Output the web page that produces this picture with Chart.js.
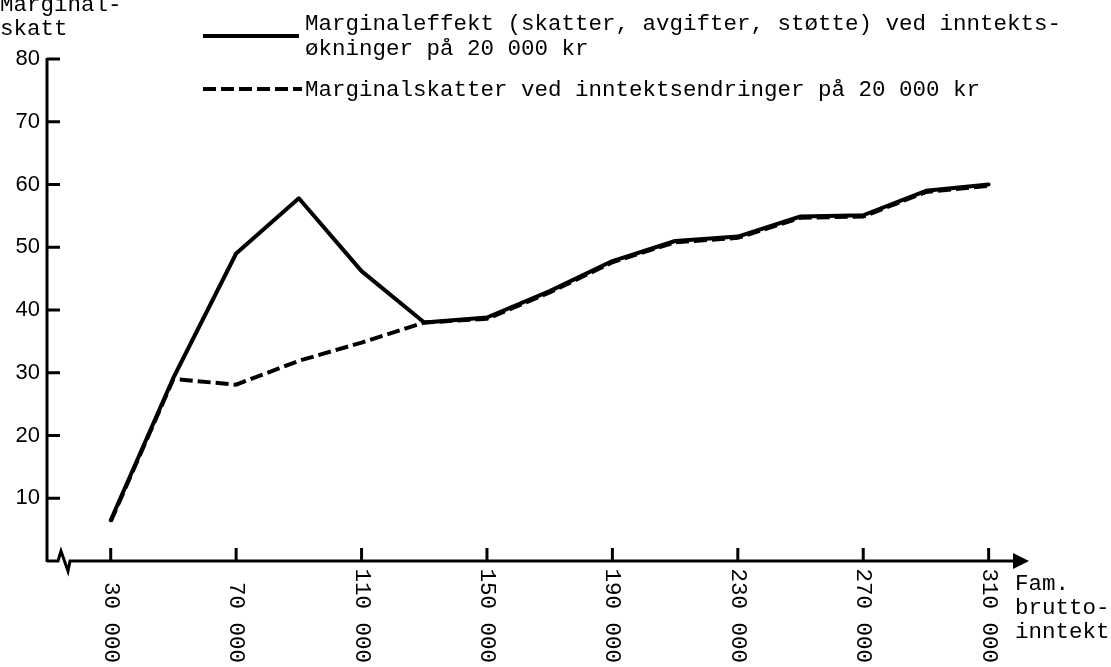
<!DOCTYPE html>
<html>
<head>
<meta charset="utf-8">
<script src="https://cdn.jsdelivr.net/npm/chart.js@4.4.0/dist/chart.umd.min.js"></script>
<style>
  html, body { margin: 0; padding: 0; background: #fff; }
  canvas { display: block; }
</style>
</head>
<body>
<canvas id="chart" width="1111" height="667"></canvas>
<script>
// family gross income (kr) and marginal rates (%)
const incomes = [30000, 50000, 70000, 90000, 110000, 130000, 150000, 170000, 190000, 210000, 230000, 250000, 270000, 290000, 310000];
const marginalEffect = [6.5, 29.2, 49, 57.8, 46.2, 38, 38.8, 43, 47.8, 51, 51.7, 54.9, 55.1, 59, 60];
const marginalTax = [6.3, 29, 28.1, 31.9, 34.8, 38, 38.6, 42.8, 47.6, 50.8, 51.5, 54.7, 54.9, 58.8, 59.8];

const yTicks = [10, 20, 30, 40, 50, 60, 70, 80];
const xTickValues = [30000, 70000, 110000, 150000, 190000, 230000, 270000, 310000];
const xTickLabels = ['30 000', '70 000', '110 000', '150 000', '190 000', '230 000', '270 000', '310 000'];

const yTitle = ['Marginal-', 'skatt'];
const xTitle = ['Fam.', 'brutto-', 'inntekt'];
const legendEffect = ['Marginaleffekt (skatter, avgifter, støtte) ved inntekts-', 'økninger på 20 000 kr'];
const legendTax = ['Marginalskatter ved inntektsendringer på 20 000 kr'];

const mono = '22.5px "Liberation Mono", "DejaVu Sans Mono", monospace';
const sans = '22px "Liberation Sans", Arial, sans-serif';

const toPoints = (values) => incomes.map((inc, i) => { return {x: inc, y: values[i]} });

const axesPlugin = {
    id: 'axesPlugin',
    beforeDraw: (chart) => {
        const ctx = chart.ctx;
        ctx.save();
        ctx.fillStyle = '#fff';
        ctx.fillRect(0, 0, chart.width, chart.height);
        ctx.restore();
    },
    afterDraw: (chart) => {
        const ctx = chart.ctx;
        const xs = chart.scales.x, ys = chart.scales.y;
        const x0 = xs.left - 1;
        const y0 = ys.getPixelForValue(0);
        const yTop = ys.getPixelForValue(80);
        ctx.save();
        ctx.strokeStyle = '#000';
        ctx.fillStyle = '#000';
        ctx.lineWidth = 3;
        ctx.lineCap = 'butt';

        // y axis + ticks
        ctx.beginPath();
        ctx.moveTo(x0, yTop - 1);
        ctx.lineTo(x0, y0 + 1);
        ctx.stroke();
        ctx.font = sans;
        ctx.textAlign = 'right';
        ctx.textBaseline = 'middle';
        yTicks.forEach((v) => {
            const py = ys.getPixelForValue(v);
            ctx.beginPath();
            ctx.moveTo(x0, py);
            ctx.lineTo(x0 + 13, py);
            ctx.stroke();
            ctx.fillText(String(v), x0 - 7, py);
        });

        // x axis with break mark and arrow
        const arrowBase = xs.right - 5;
        ctx.beginPath();
        ctx.moveTo(x0, y0);
        ctx.lineTo(x0 + 11, y0);
        ctx.lineTo(x0 + 14, y0 - 10);
        ctx.lineTo(x0 + 21, y0 + 10);
        ctx.lineTo(x0 + 23, y0);
        ctx.lineTo(arrowBase, y0);
        ctx.stroke();
        ctx.beginPath();
        ctx.moveTo(arrowBase - 2, y0 - 8);
        ctx.lineTo(arrowBase + 14, y0);
        ctx.lineTo(arrowBase - 2, y0 + 8);
        ctx.closePath();
        ctx.fill();

        // x ticks + rotated labels
        ctx.font = mono;
        xTickValues.forEach((v, i) => {
            const px = xs.getPixelForValue(v);
            ctx.beginPath();
            ctx.moveTo(px, y0);
            ctx.lineTo(px, y0 - 13);
            ctx.stroke();
            ctx.save();
            ctx.translate(px, 663);
            ctx.rotate(Math.PI / 2);
            ctx.textAlign = 'right';
            ctx.textBaseline = 'middle';
            ctx.fillText(xTickLabels[i], 0, 0);
            ctx.restore();
        });

        // axis titles
        ctx.textAlign = 'left';
        ctx.textBaseline = 'alphabetic';
        yTitle.forEach((t, i) => ctx.fillText(t, 0, 11 + i * 24));
        xTitle.forEach((t, i) => ctx.fillText(t, 1015, 590 + i * 24));

        // legend
        ctx.lineWidth = 4;
        ctx.beginPath();
        ctx.moveTo(203, 36);
        ctx.lineTo(299, 36);
        ctx.stroke();
        ctx.setLineDash([13, 5]);
        ctx.beginPath();
        ctx.moveTo(203, 89);
        ctx.lineTo(302, 89);
        ctx.stroke();
        ctx.setLineDash([]);
        legendEffect.forEach((t, i) => ctx.fillText(t, 305, 30 + i * 25));
        legendTax.forEach((t) => ctx.fillText(t, 305, 96));
        ctx.restore();
    }
};

const plotChart = (where) => {
    const ctx = document.getElementById(where).getContext('2d');
    const config = {
        type: 'line',
        data: {
            datasets: [{
                label: legendTax[0],
                data: toPoints(marginalTax),
                borderColor: '#000',
                borderWidth: 4,
                borderDash: [13, 5],
                pointRadius: 0,
                tension: 0,
                fill: false
            }, {
                label: legendEffect.join(' '),
                data: toPoints(marginalEffect),
                borderColor: '#000',
                borderWidth: 4,
                borderCapStyle: 'round',
                borderJoinStyle: 'round',
                pointRadius: 0,
                tension: 0,
                fill: false
            }]
        },
        options: {
            responsive: false,
            animation: false,
            clip: false,
            layout: { padding: { left: 48, right: 91, top: 59, bottom: 106 } },
            plugins: { legend: { display: false }, tooltip: { enabled: false } },
            scales: {
                x: { type: 'linear', min: 10000, max: 320000, display: false },
                y: { type: 'linear', min: 0, max: 80, display: false }
            }
        },
        plugins: [axesPlugin]
    };
    new Chart(ctx, config);
};

window.onload = function () {
    plotChart('chart');
}
</script>
</body>
</html>
